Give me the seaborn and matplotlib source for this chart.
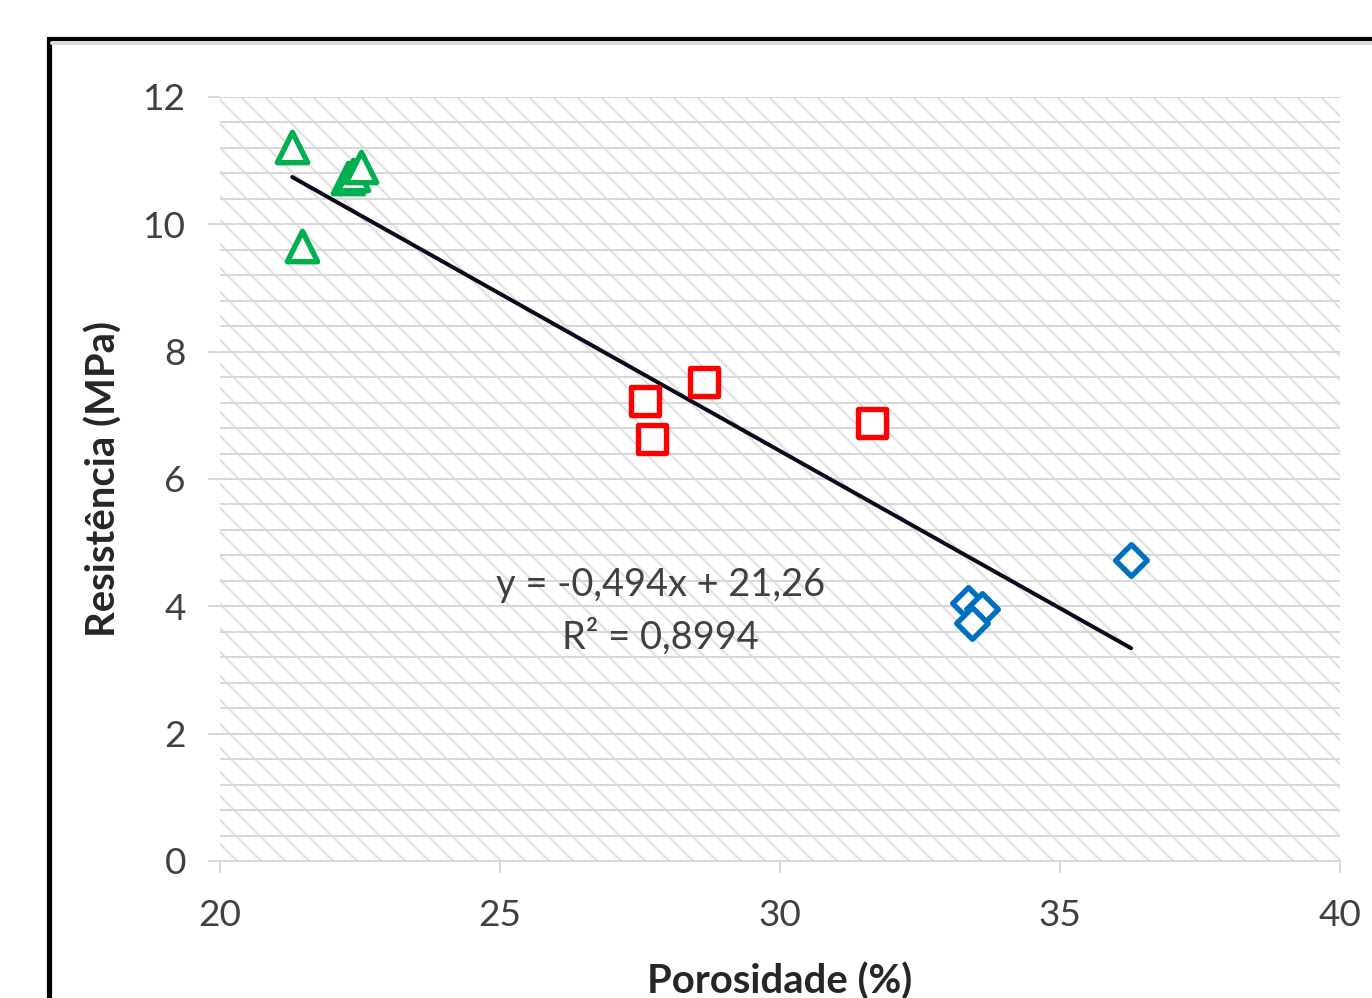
import matplotlib
matplotlib.use("Agg")
import matplotlib.pyplot as plt
from matplotlib.patches import Rectangle
from matplotlib.lines import Line2D
from matplotlib.ticker import MultipleLocator
import numpy as np
import pandas as pd
import seaborn as sns

# dados: porosidade (%) x resistência (MPa)
tri_x = [21.29, 21.46, 22.29, 22.38, 22.52]
tri_y = [11.21, 9.66, 10.72, 10.77, 10.90]
sq_x = [27.59, 27.71, 28.64, 31.64]
sq_y = [7.22, 6.63, 7.52, 6.88]
dia_x = [33.36, 33.61, 33.43, 36.27]
dia_y = [4.05, 3.96, 3.74, 4.73]

# linha de tendência (Excel)
slope = -0.494
intercept = 21.26
eq_text = "y = -0,494x + 21,26"
r2_text = "R² = 0,8994"

x_ticks = [20, 25, 30, 35, 40]
y_ticks = [0, 2, 4, 6, 8, 10, 12]

sns.set_theme(style="white")
plt.rcParams['font.family'] = ['Lato', 'DejaVu Sans']
plt.rcParams['hatch.linewidth'] = 1.1

DPI = 144
fig = plt.figure(figsize=(1372 / DPI, 998 / DPI), dpi=DPI)
ax = fig.add_axes([220 / 1372, 1 - 861 / 998, 1120 / 1372, 764 / 998])

# fundo hachurado (padrão diagonal do Excel)
ax.add_patch(Rectangle((0, 0), 1, 1, transform=ax.transAxes, facecolor='white',
                       edgecolor='#e0e0e0', hatch='\\\\', linewidth=0, zorder=0))

grupos = [
    (tri_x, tri_y, '^', '#00b050', 230),
    (sq_x, sq_y, 's', '#ff0000', 185),
    (dia_x, dia_y, 'D', '#0070c0', 125),
]
for gx, gy, mk, cor, tam in grupos:
    df = pd.DataFrame({'x': gx, 'y': gy})
    sns.scatterplot(data=df, x='x', y='y', marker=mk, s=tam, facecolor='white',
                    edgecolor=cor, linewidth=2.7, ax=ax, zorder=4, legend=False)

todos_x = np.array(tri_x + sq_x + dia_x)
xl = np.array([todos_x.min(), todos_x.max()])
tend = pd.DataFrame({'x': xl, 'y': slope * xl + intercept})
sns.lineplot(data=tend, x='x', y='y', color='#0b0b1e', linewidth=2.0, ax=ax, zorder=3)

ax.text(27.86, 4.33, eq_text, ha='center', va='center', fontsize=19, color='#404040', zorder=5)
ax.text(27.86, 3.52, r2_text, ha='center', va='center', fontsize=19, color='#404040', zorder=5)

ax.set_xlim(20, 40)
ax.set_ylim(0, 12)
ax.set_xticks(x_ticks)
ax.set_yticks(y_ticks)
ax.yaxis.set_minor_locator(MultipleLocator(0.4))
ax.grid(axis='y', which='both', color='#d9d9d9', linewidth=1.0)
ax.set_axisbelow(True)

for s in ['top', 'right', 'left']:
    ax.spines[s].set_visible(False)
ax.spines['bottom'].set_color('#d9d9d9')
ax.spines['bottom'].set_linewidth(1.0)

ax.tick_params(axis='both', which='major', direction='out', length=6, width=1.0,
               color='#d9d9d9', labelsize=18.5, labelcolor='#404040')
ax.tick_params(axis='y', which='major', pad=11, left=True)
ax.tick_params(axis='x', which='major', pad=13, bottom=True)
ax.tick_params(which='minor', length=0)

ax.set_xlabel('Porosidade (%)', fontsize=20, fontweight='bold', color='#262626')
ax.set_ylabel('Resistência (MPa)', fontsize=20, fontweight='bold', color='#262626')
ax.xaxis.set_label_coords(0.5, -0.133)
ax.yaxis.set_label_coords(-0.087, 0.5)

# moldura da área do gráfico (cortada à direita e embaixo)
fig.add_artist(Line2D([52 / 1372, 1.0], [1 - 43 / 998] * 2, color='#d9d9d9', lw=2.0))
fig.add_artist(Rectangle((49 / 1372, -0.3), 1.2, 1.3 - 38.5 / 998, transform=fig.transFigure,
                         fill=False, edgecolor='black', linewidth=2.6))

fig.savefig('out.png', dpi=DPI)
